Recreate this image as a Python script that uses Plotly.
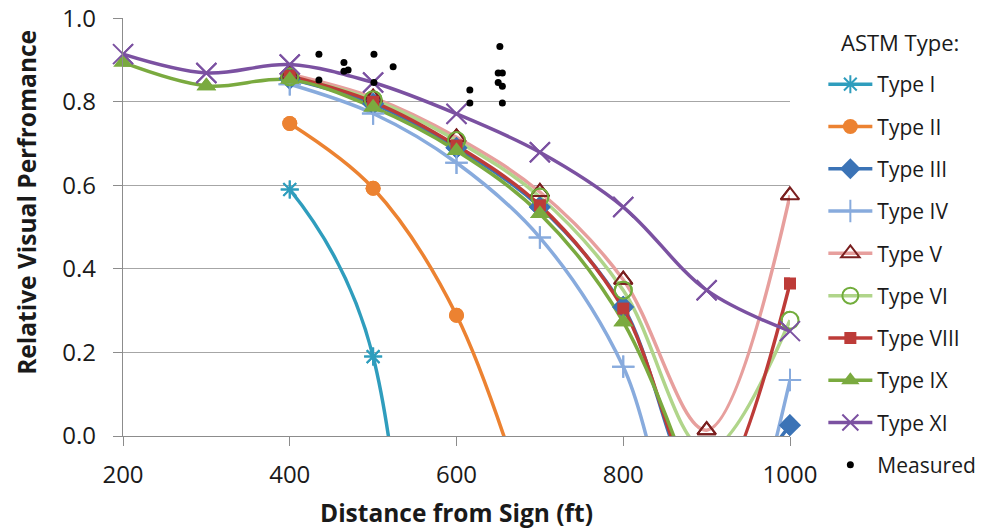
import plotly.graph_objects as go

# ---------------- data ----------------
distance = [200, 300, 400, 500, 600, 700, 800, 900, 1000]

type_i    = [None, None, 0.59, 0.19, -6.0, None, None, None, None]
type_ii   = [None, None, 0.748, 0.593, 0.289, -0.27, None, None, None]
type_iii  = [None, None, 0.855, 0.795, 0.690, 0.548, 0.309, -0.15, 0.026]
type_iv   = [None, None, 0.842, 0.772, 0.654, 0.475, 0.166, -0.45, 0.134]
type_v    = [None, None, 0.866, 0.810, 0.715, 0.584, 0.374, 0.014, 0.576]
type_vi   = [None, None, 0.860, 0.805, 0.707, 0.572, 0.349, -0.035, 0.277]
type_viii = [None, None, 0.862, 0.800, 0.695, 0.552, 0.305, -0.15, 0.365]
type_ix   = [0.894, 0.838, 0.853, 0.787, 0.683, 0.532, 0.273, -0.22, None]
type_xi   = [0.914, 0.869, 0.889, 0.846, 0.771, 0.679, 0.548, 0.349, 0.251]

measured_x = [435, 435, 465, 465, 470, 501, 501, 524, 616, 616, 652, 650, 655, 650, 655, 655]
measured_y = [0.914, 0.852, 0.894, 0.873, 0.876, 0.914, 0.846, 0.884, 0.828, 0.797,
              0.932, 0.869, 0.869, 0.846, 0.837, 0.797]

series_names = ["Type I", "Type II", "Type III", "Type IV", "Type V",
                "Type VI", "Type VIII", "Type IX", "Type XI"]
series_vals = [type_i, type_ii, type_iii, type_iv, type_v,
               type_vi, type_viii, type_ix, type_xi]

y_ticks = [0.0, 0.2, 0.4, 0.6, 0.8, 1.0]
x_ticks = [200, 400, 600, 800, 1000]

# ---------------- styles ----------------
styles = {
    "Type I":    dict(line="#2f9dbd", marker=dict(symbol="asterisk-open", size=15, color="#2f9dbd", line=dict(width=2, color="#2f9dbd"))),
    "Type II":   dict(line="#ec8231", marker=dict(symbol="circle", size=15, color="#ec8231")),
    "Type III":  dict(line="#3b73b6", marker=dict(symbol="diamond", size=17, color="#3b73b6")),
    "Type IV":   dict(line="#88abdd", marker=dict(symbol="cross-thin-open", size=16, color="#88abdd", line=dict(width=2, color="#88abdd"))),
    "Type V":    dict(line="#e79f9d", marker=dict(symbol="triangle-up-open", size=16, color="#7a1f1f", line=dict(width=2, color="#7a1f1f"))),
    "Type VI":   dict(line="#b0d58a", marker=dict(symbol="circle-open", size=17, color="#72ad3c", line=dict(width=2, color="#72ad3c"))),
    "Type VIII": dict(line="#bd3b38", marker=dict(symbol="square", size=12, color="#bd3b38")),
    "Type IX":   dict(line="#7aaa3f", marker=dict(symbol="triangle-up", size=17, color="#7aaa3f")),
    "Type XI":   dict(line="#7b51a1", marker=dict(symbol="x-thin-open", size=20, color="#7b51a1", line=dict(width=2, color="#7b51a1"))),
}

font_family = "Open Sans, DejaVu Sans, sans-serif"

fig = go.Figure()

for i, (name, vals) in enumerate(zip(series_names, series_vals)):
    st = styles[name]
    fig.add_trace(go.Scatter(
        x=distance, y=vals, name=name, mode="lines+markers",
        line=dict(color=st["line"], width=3.5, shape="spline", smoothing=1.0),
        marker=st["marker"], connectgaps=False, cliponaxis=True,
        legendgroup=name, legendrank=i + 1,
    ))

# re-draw in-range markers unclipped (so points sitting on the axis are whole)
for name, vals in zip(series_names, series_vals):
    st = styles[name]
    xs = [x for x, v in zip(distance, vals) if v is not None and v >= 0]
    ys = [v for v in vals if v is not None and v >= 0]
    fig.add_trace(go.Scatter(
        x=xs, y=ys, mode="markers", marker=st["marker"], cliponaxis=False,
        showlegend=False, hoverinfo="skip", legendgroup=name,
    ))

fig.add_trace(go.Scatter(
    x=measured_x, y=measured_y, name="Measured", mode="markers",
    marker=dict(symbol="circle", size=7, color="black"),
    legendgroup="Measured", legendrank=10, cliponaxis=False,
))

# The page body adds an 8px margin, so the figure is 8px smaller than the window
fig.update_layout(
    width=978, height=523,
    margin=dict(l=115, r=196, t=10, b=95, autoexpand=False),
    paper_bgcolor="white", plot_bgcolor="white",
    font=dict(family=font_family, color="#1a1a1a"),
    xaxis=dict(
        range=[200, 1000], tickvals=x_ticks, ticktext=[str(v) for v in x_ticks],
        showgrid=False, zeroline=False, automargin=False,
        showline=True, linecolor="#8c8c8c", linewidth=1.2,
        ticks="outside", ticklen=9, tickcolor="#8c8c8c",
        ticklabelstandoff=8, ticklabeloverflow="allow",
        tickfont=dict(size=24, family=font_family),
        title=dict(text="<b>Distance from Sign (ft)</b>", font=dict(size=24.5, family=font_family), standoff=15),
    ),
    yaxis=dict(
        range=[0, 1.0005], tickvals=y_ticks, ticktext=[f"{v:.1f}" for v in y_ticks],
        showgrid=True, gridcolor="#a6a6a6", gridwidth=1.2, zeroline=False, automargin=False,
        showline=True, linecolor="#8c8c8c", linewidth=1.2,
        ticks="outside", ticklen=9, tickcolor="#8c8c8c",
        ticklabelstandoff=12, ticklabeloverflow="allow",
        tickfont=dict(size=24, family=font_family),
    ),
    legend=dict(
        x=1.05, y=0.89, xanchor="left", yanchor="top",
        font=dict(size=21, family=font_family),
        itemwidth=44, tracegroupgap=12, maxheight=520,
        bgcolor="rgba(0,0,0,0)",
    ),
    annotations=[
        dict(
            text="ASTM Type:", xref="paper", yref="paper", x=1.073, y=0.9426,
            xanchor="left", yanchor="middle", showarrow=False,
            font=dict(size=22, family=font_family, color="#1a1a1a"),
        ),
        dict(
            text="<b>Relative Visual Perfromance</b>", xref="paper", yref="paper",
            x=-0.144, y=0.56, xanchor="center", yanchor="middle", textangle=-90,
            showarrow=False, font=dict(size=24.5, family=font_family, color="#1a1a1a"),
        ),
    ],
    showlegend=True,
)

fig.write_html("out.html")
